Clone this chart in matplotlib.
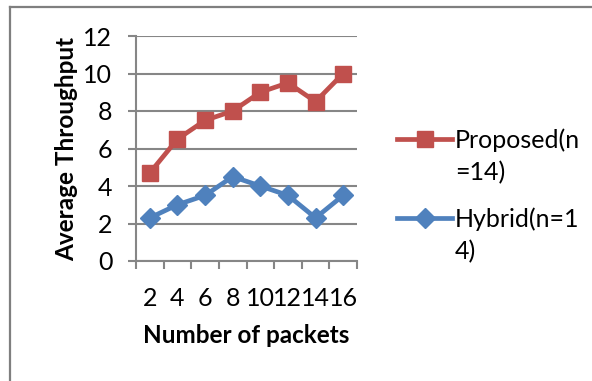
import matplotlib
matplotlib.use("Agg")
import matplotlib.pyplot as plt
from matplotlib.lines import Line2D

# Data
packets = ["2", "4", "6", "8", "10", "12", "14", "16"]
proposed = [4.7, 6.5, 7.5, 8.0, 9.0, 9.5, 8.5, 10.0]
hybrid = [2.3, 3.0, 3.5, 4.5, 4.0, 3.5, 2.3, 3.5]
series_names = ["Proposed(n=14)", "Hybrid(n=14)"]
y_ticks = [0, 2, 4, 6, 8, 10, 12]

RED = "#C0504D"
BLUE = "#4F81BD"
GRID = "#868686"
FONT = "Lato"
FS = 18

W, H, DPI = 592, 381, 100
fig = plt.figure(figsize=(W / DPI, H / DPI), dpi=DPI)
plt.rcParams["font.family"] = [FONT, "DejaVu Sans"]

def fx(px):
    return px / W

def fy(py):
    return 1 - py / H

# plot area in pixel coordinates
left, right, top, bottom = 136, 357, 36, 261
ax = fig.add_axes([fx(left), fy(bottom), fx(right - left), (bottom - top) / H])

xs = list(range(1, len(packets) + 1))
ax.plot(xs, proposed, color=RED, lw=3.4, marker="s", ms=12,
        solid_joinstyle="round", zorder=3)
ax.plot(xs, hybrid, color=BLUE, lw=3.4, marker="D", ms=10,
        solid_joinstyle="round", zorder=3)

ax.set_xlim(0.5, len(packets) + 0.5)
ax.set_ylim(0, 12)
ax.set_yticks(y_ticks)
ax.set_yticklabels([str(v) for v in y_ticks])

# x: tick marks between categories, labels at category centres
ax.set_xticks([i + 0.5 for i in range(0, len(packets) + 1)])
ax.set_xticklabels([])
ax.set_xticks(xs, minor=True)
ax.set_xticklabels(packets, minor=True)
ax.tick_params(axis="x", which="major", direction="out", length=5.5,
               width=1.5, color=GRID)
ax.tick_params(axis="x", which="minor", length=0, pad=19, labelsize=FS)
ax.tick_params(axis="y", direction="out", length=6, width=1.5, color=GRID,
               pad=11, labelsize=FS)

ax.grid(axis="y", color=GRID, lw=1.5)
ax.set_axisbelow(True)
for s in ("top", "right"):
    ax.spines[s].set_visible(False)
for s in ("left", "bottom"):
    ax.spines[s].set_color(GRID)
    ax.spines[s].set_linewidth(1.5)

ax.set_xlabel("Number of packets", fontsize=17.5, fontweight="bold", labelpad=10)
ax.set_ylabel("Average Throughput", fontsize=17.5, fontweight="bold", labelpad=4)

# chart frame (left and top edges)
fig.add_artist(Line2D([fx(10), fx(10)], [fy(7), fy(H + 5)], color="#7F7F7F", lw=1.6))
fig.add_artist(Line2D([fx(10), fx(W + 5)], [fy(7), fy(7)], color="#7F7F7F", lw=1.6))

# legend
def wrap(label, n=10):
    return "\n".join(label[i:i + n] for i in range(0, len(label), n))

legend_items = [
    (series_names[0], RED, "s", 12, 139),
    (series_names[1], BLUE, "D", 10, 218),
]
for name, col, mk, ms, py in legend_items:
    fig.add_artist(Line2D([fx(397), fx(452)], [fy(py), fy(py)], color=col, lw=3.4))
    fig.add_artist(Line2D([fx(424.5)], [fy(py)], color=col, marker=mk, ms=ms, lw=0))
    fig.text(fx(455), fy(py - 11), wrap(name), fontsize=FS, va="top", ha="left",
             linespacing=1.5)

fig.savefig("out.png", dpi=DPI)
